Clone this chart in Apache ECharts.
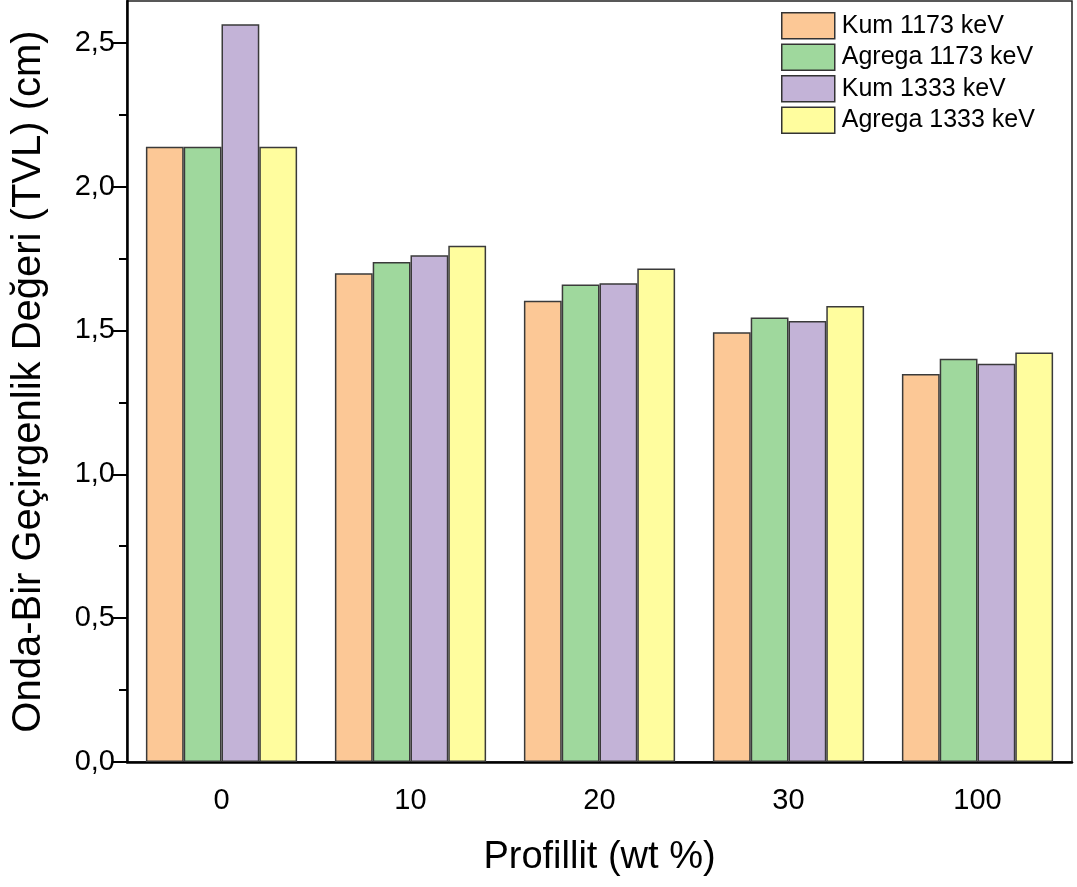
<!DOCTYPE html>
<html>
<head>
<meta charset="utf-8">
<script src="https://cdn.jsdelivr.net/npm/echarts@6/dist/echarts.min.js"></script>
<style>
html,body{margin:0;padding:0;background:#fff;}
#chart{width:1077px;height:887px;}
</style>
</head>
<body>
<div id="chart"></div>
<script>
const categories = ['0', '10', '20', '30', '100'];
const seriesNames = ['Kum 1173 keV', 'Agrega 1173 keV', 'Kum 1333 keV', 'Agrega 1333 keV'];
const kum1173 = [2.138, 1.699, 1.603, 1.494, 1.349];
const agrega1173 = [2.138, 1.738, 1.660, 1.545, 1.402];
const kum1333 = [2.564, 1.761, 1.664, 1.533, 1.384];
const agrega1333 = [2.138, 1.794, 1.715, 1.585, 1.423];
const yMajorTicks = [0, 0.5, 1.0, 1.5, 2.0, 2.5];
const yMinorTicks = [0.25, 0.75, 1.25, 1.75, 2.25];
const yMax = 2.645;
const colors = ['#FCC896', '#9FD89D', '#C3B3D7', '#FFFD9E'];

const FONT = '"Liberation Sans", Arial, sans-serif';
const chart = echarts.init(document.getElementById('chart'), null, {renderer: 'canvas'});
const values = [kum1173, agrega1173, kum1333, agrega1333];

chart.setOption({
  animation: false,
  backgroundColor: '#fff',
  textStyle: {fontFamily: FONT},
  grid: {left: 127, right: 5, top: 1, bottom: 125, show: true, borderColor: '#222', borderWidth: 1.5},
  legend: {
    left: 781, top: 12, orient: 'vertical', padding: 0,
    itemWidth: 53, itemHeight: 26, itemGap: 4,
    icon: 'rect',
    textStyle: {fontSize: 25, lineHeight: 26, fontFamily: FONT, color: '#000', padding: [0, 0, 0, 2]},
    data: seriesNames,
    itemStyle: {borderColor: '#333', borderWidth: 1.5}
  },
  xAxis: [{
    type: 'category', data: categories, position: 'bottom',
    axisLine: {lineStyle: {color: '#000', width: 2.5}},
    axisTick: {alignWithLabel: true, length: 14, lineStyle: {color: '#000', width: 2}},
    axisLabel: {fontSize: 29, color: '#000', fontFamily: FONT, margin: 24},
    name: 'Profillit (wt %)', nameLocation: 'middle', nameGap: 77,
    nameTextStyle: {fontSize: 38, color: '#000', fontFamily: FONT}
  }, {
    type: 'category', data: categories, position: 'bottom',
    axisLine: {show: false},
    axisTick: {alignWithLabel: false, length: 7, lineStyle: {color: '#000', width: 2}},
    axisLabel: {show: false}
  }],
  yAxis: [{
    type: 'value', min: 0, max: yMax,
    axisLine: {show: true, lineStyle: {color: '#000', width: 2.5}},
    axisTick: {show: true, length: 14, customValues: yMajorTicks, lineStyle: {color: '#000', width: 2}},
    axisLabel: {fontSize: 29, color: '#000', fontFamily: FONT, margin: 12, customValues: yMajorTicks,
      formatter: v => v.toFixed(1).replace('.', ',')},
    splitLine: {show: false},
    name: 'Onda-Bir Geçirgenlik Değeri (TVL) (cm)', nameLocation: 'middle', nameGap: 78,
    nameTextStyle: {fontSize: 40, color: '#000', fontFamily: FONT}
  }, {
    type: 'value', min: 0, max: yMax, position: 'left',
    axisLine: {show: false},
    axisTick: {show: true, length: 8, customValues: yMinorTicks, lineStyle: {color: '#000', width: 2}},
    axisLabel: {show: false},
    splitLine: {show: false}
  }],
  series: seriesNames.map((name, i) => ({
    name: name, type: 'bar', data: values[i],
    xAxisIndex: 0, yAxisIndex: 0,
    barGap: '0%', barCategoryGap: '20%',
    itemStyle: {color: colors[i], borderColor: '#3a3a3a', borderWidth: 1.5}
  }))
});
</script>
</body>
</html>
